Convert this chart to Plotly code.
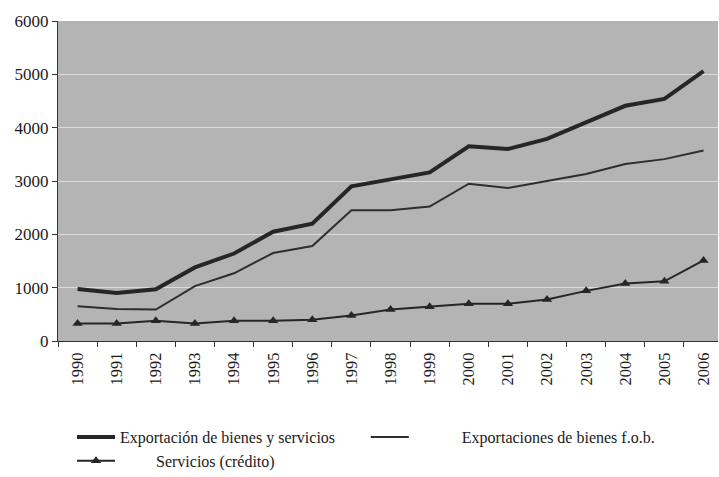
import plotly.graph_objects as go

years = [str(y) for y in range(1990, 2007)]
exp_bienes_servicios = [975, 900, 970, 1380, 1640, 2050, 2200, 2900, 3030, 3160, 3650, 3600, 3790, 4100, 4410, 4540, 5060]
exp_bienes_fob = [650, 600, 590, 1030, 1270, 1650, 1780, 2450, 2450, 2520, 2950, 2870, 3000, 3130, 3320, 3410, 3570]
servicios_credito = [330, 330, 380, 330, 380, 380, 400, 480, 590, 640, 700, 700, 780, 940, 1080, 1120, 1510]

name1 = "Exportación de bienes y servicios"
name2 = "\u00a0" * 12 + "Exportaciones de bienes f.o.b."
name3 = "\u00a0" * 9 + "Servicios (crédito)"

fig = go.Figure()
fig.add_trace(go.Scatter(x=years, y=exp_bienes_servicios, mode="lines", name=name1,
                         line=dict(color="#262626", width=4)))
fig.add_trace(go.Scatter(x=years, y=exp_bienes_fob, mode="lines", name=name2,
                         line=dict(color="#2e2e2e", width=2)))
fig.add_trace(go.Scatter(x=years, y=servicios_credito, mode="lines+markers", name=name3,
                         line=dict(color="#262626", width=2),
                         marker=dict(symbol="triangle-up", size=9, color="#262626")))

serif = "Liberation Serif"
fig.update_layout(
    width=719, height=477,
    margin=dict(l=58, r=1, t=21, b=136),
    paper_bgcolor="white",
    plot_bgcolor="#b4b4b4",
    font=dict(family=serif, color="#1a1a1a"),
    showlegend=True,
    legend=dict(orientation="h", xref="container", yref="container",
                x=72 / 719, xanchor="left", y=1 - 420 / 477, yanchor="top",
                font=dict(family=serif, size=16, color="#1a1a1a"),
                bgcolor="rgba(0,0,0,0)", tracegroupgap=0, itemwidth=38),
    xaxis=dict(type="category", range=[-0.5, 16.37], tickangle=-90, automargin=False,
               tickfont=dict(family=serif, size=16.5, color="#1a1a1a"),
               ticklabelstandoff=4,
               showgrid=False, showline=True, linecolor="#333", linewidth=1,
               ticks="outside", ticklen=5, tickcolor="#333", tickson="boundaries",
               zeroline=False),
    yaxis=dict(range=[0, 6000], dtick=1000, automargin=False,
               tickfont=dict(family=serif, size=17, color="#1a1a1a"),
               showgrid=True, gridcolor="#dcdcdc", gridwidth=1,
               showline=True, linecolor="#333", linewidth=1,
               ticks="outside", ticklen=5, tickcolor="#333", zeroline=False),
)

fig.write_html("out.html", config={"displayModeBar": False},
               post_script="document.body.style.margin='0';document.body.style.overflow='hidden';")
